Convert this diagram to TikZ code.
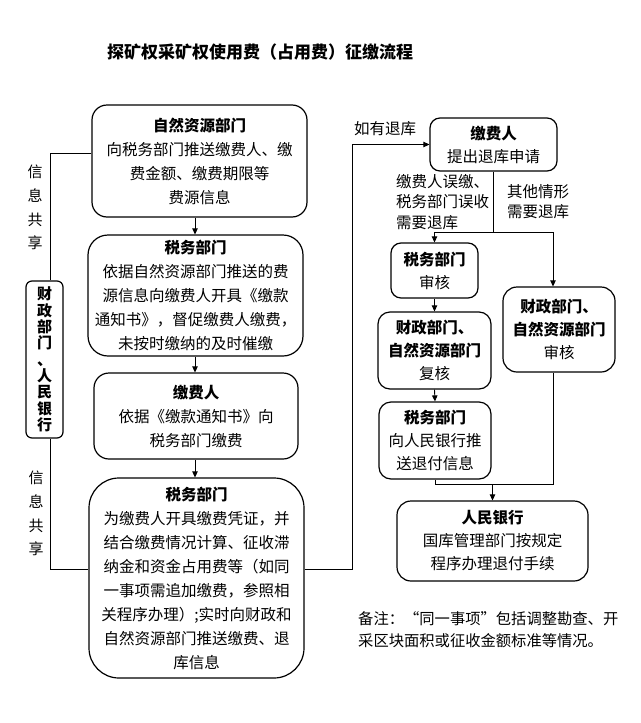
\documentclass[tikz,border=0pt]{standalone}
\usepackage{fontspec}
\setmainfont{Noto Sans CJK SC}
\usetikzlibrary{arrows.meta}
\begin{document}
\begin{tikzpicture}[x=1pt,y=-1pt,
  box/.style={draw, line width=1.2pt, rounded corners=#1, align=center, inner sep=0pt, fill=white,
    font=\fontsize{15.5}{24}\selectfont},
  box/.default=12pt,
  rbox/.style={box=#1, font=\fontsize{15.5}{23}\selectfont},
  rbox/.default=10pt,
  lbl/.style={inner sep=0pt, font=\fontsize{15.5}{20.5}\selectfont},
  conn/.style={line width=0.9pt},
  arr/.style={line width=0.9pt, -{Triangle[length=6pt,width=5.5pt]}}]
\useasboundingbox (0,0) rectangle (640,723);

% title
\node[inner sep=0pt, font=\fontsize{17}{20}\bfseries\selectfont] (title) at (260,52) {探矿权采矿权使用费（占用费）征缴流程};

% left column
\node[box=15pt, minimum width=215pt, minimum height=112pt] (b1) at (199.5,161)
  {\textbf{自然资源部门}\\向税务部门推送缴费人、缴\\费金额、缴费期限等\\费源信息};
\node[box=20pt, minimum width=215pt, minimum height=121pt] (b2) at (195.5,295.5)
  {\textbf{税务部门}\\依据自然资源部门推送的费\\源信息向缴费人开具《缴款\\通知书》，督促缴费人缴费，\\未按时缴纳的及时催缴};
\node[box=15pt, minimum width=204pt, minimum height=86pt] (b3) at (196,416)
  {\textbf{缴费人}\\依据《缴款通知书》向\\税务部门缴费};
\node[box=30pt, minimum width=215pt, minimum height=200pt] (b4) at (196.5,578)
  {\textbf{税务部门}\\为缴费人开具缴费凭证，并\\结合缴费情况计算、征收滞\\纳金和资金占用费等（如同\\一事项需追加缴费，参照相\\关程序办理）;实时向财政和\\自然资源部门推送缴费、退\\库信息};

% side box
\node[box=6pt, minimum width=37pt, minimum height=157pt, font=\fontsize{15}{16.3}\bfseries\selectfont] (side) at (44.5,359.5)
  {财\\政\\部\\门\\、\\人\\民\\银\\行};
\node[lbl, align=center, font=\fontsize{15}{23.7}\selectfont] (share1) at (35,207.5) {信\\息\\共\\享};
\node[lbl, align=center, font=\fontsize{15}{23.7}\selectfont] (share2) at (36,513.5) {信\\息\\共\\享};

% right column
\node[rbox=10pt, minimum width=127pt, minimum height=53pt] (r1) at (493.5,144.5)
  {\textbf{缴费人}\\提出退库申请};
\node[rbox=10pt, minimum width=87pt, minimum height=55pt] (r2) at (434.5,270.5)
  {\textbf{税务部门}\\审核};
\node[rbox=12pt, minimum width=113pt, minimum height=77pt] (r3) at (434.5,350.5)
  {\textbf{财政部门、}\\\textbf{自然资源部门}\\复核};
\node[rbox=12pt, minimum width=112pt, minimum height=77pt] (r4) at (435,440.5)
  {\textbf{税务部门}\\向人民银行推\\送退付信息};
\node[rbox=14pt, minimum width=112pt, minimum height=85pt] (r5) at (559,329.5)
  {\textbf{财政部门、}\\\textbf{自然资源部门}\\审核};
\node[rbox=14pt, minimum width=191pt, minimum height=80pt] (r6) at (492.5,541)
  {\textbf{人民银行}\\国库管理部门按规定\\程序办理退付手续};

% labels
\node[lbl] (lr) at (385,129) {如有退库};
\node[lbl, anchor=west, align=left] (lab1) at (396,202) {缴费人误缴、\\税务部门误收\\需要退库};
\node[lbl, anchor=west, align=left] (lab2) at (507,201.5) {其他情形\\需要退库};
\node[lbl, anchor=west, align=left, font=\fontsize{15.3}{22}\selectfont] (note) at (358,630)
  {备注：“同一事项”包括调整勘查、开\\采区块面积或征收金额标准等情况。};

% coordinates
\coordinate (jl) at (50,569);
\coordinate (jr) at (352,569);
\coordinate (jt) at (352,144.5);
\coordinate (sp) at (493.5,232);
\coordinate (mr) at (553,484);

% left connectors
\draw[arr] (b1.south -| 195,0) -- (b2.north -| 195,0);
\draw[arr] (b2.south -| 195,0) -- (b3.north -| 195,0);
\draw[arr] (b3.south -| 195,0) -- (b4.north -| 195,0);
\draw[conn] ([yshift=8pt]b1.west) -| ([xshift=5.5pt]side.north);
\draw[conn] ([xshift=5.5pt]side.south) -- (jl) -- (b4.west |- jl);
\draw[arr] (b4.east |- jr) -- (jr) -- (jt) -- (r1.west);

% right connectors
\draw[conn] (r1.south) -- (sp);
\draw[arr] (sp) -| (r2.north);
\draw[arr] (sp) -| ([xshift=-6pt]r5.north);
\draw[arr] (r2.south) -- (r3.north);
\draw[arr] (r3.south) -- (r4.north);
\draw[conn] (r4.south) |- (mr) -- ([xshift=-6pt]r5.south);
\draw[arr] (r6.north |- mr) -- (r6.north);
\end{tikzpicture}
\end{document}
